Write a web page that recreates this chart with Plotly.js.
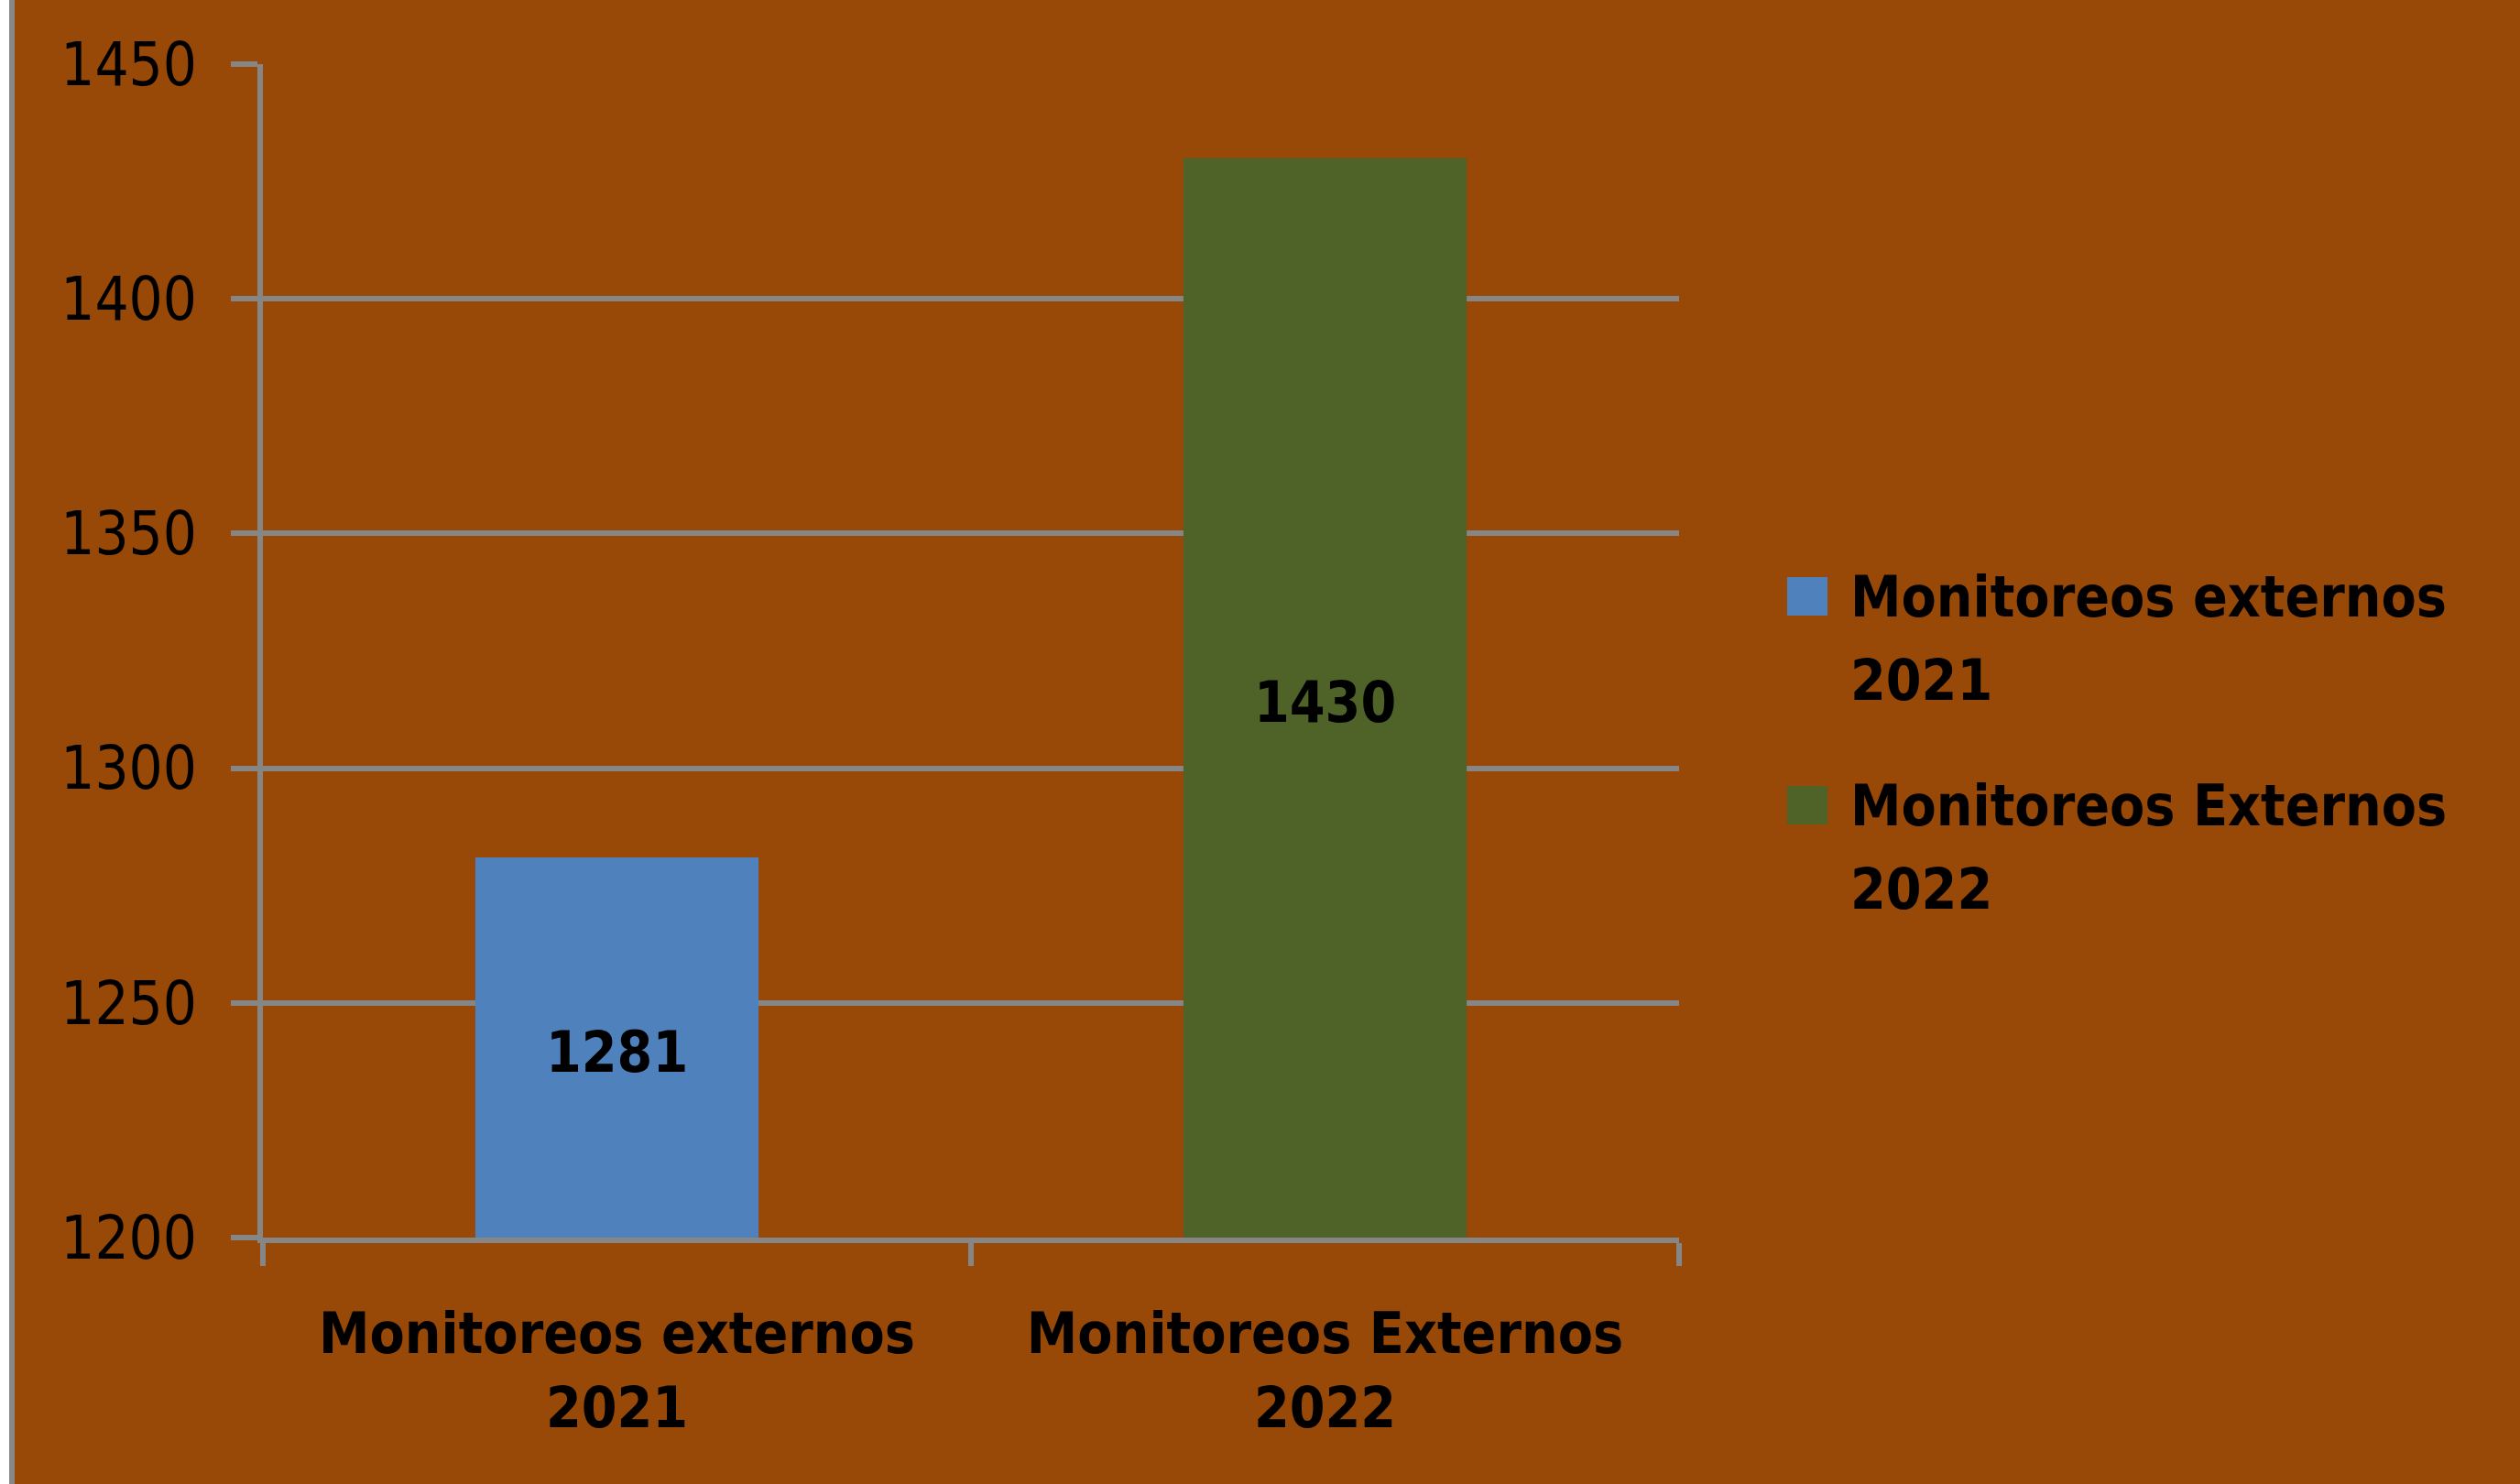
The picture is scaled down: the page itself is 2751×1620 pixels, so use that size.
<!DOCTYPE html>
<html><head><meta charset="utf-8">
<script src="https://cdn.plot.ly/plotly-3.0.1.min.js"></script>
<style>
html,body{margin:0;padding:0;background:#ffffff;overflow:hidden;}
#frame{position:absolute;left:10px;top:0;width:6px;height:1620px;background:#888888;}
#chart{position:absolute;left:16px;top:0;width:2735px;height:1620px;}
</style></head><body>
<div id="frame"></div><div id="chart"></div>
<script>
const categories = ['Monitoreos externos<br>2021', 'Monitoreos Externos<br>2022'];
const values = [1281, 1430];
const barColors = ['#4F81BD', '#4F6228'];
const yTickVals = [1200, 1250, 1300, 1350, 1400, 1450];
const yRange = [1200, 1450];

const FONT_B = "'DejaVu Sans Condensed', 'DejaVu Sans', sans-serif";
const FONT_R = "'DejaVu Sans Condensed', 'DejaVu Sans', sans-serif";
const BG = '#984807';
const GRID = '#868686';

const traces = categories.map((c, i) => ({
  type: 'bar',
  x: [c],
  y: [values[i]],
  name: c.replace('<br>', ' '),
  marker: {color: barColors[i], line: {width: 0}},
  showlegend: false,
  hoverinfo: 'x+y'
}));

const shapes = [];
const annotations = [];

// data labels, centred in the visible part of each bar
categories.forEach((c, i) => {
  annotations.push({xref: 'x', yref: 'y', x: c, y: (yRange[0] + values[i]) / 2,
    xanchor: 'center', yanchor: 'middle', yshift: -5, showarrow: false, text: String(values[i]),
    font: {family: FONT_B, size: 62, color: '#000000', weight: 'bold'}});
});

// custom legend (large swatches)
const legX0 = 1.0763, legX1 = 1.1048, legTextX = 1.1197;
const legLine1 = [0.5464, 0.3684];
const lineStep = 0.0710;
const swHalf = 0.0164;
categories.forEach((c, i) => {
  shapes.push({type: 'rect', xref: 'paper', yref: 'paper',
    x0: legX0, x1: legX1, y0: legLine1[i] - swHalf, y1: legLine1[i] + swHalf,
    fillcolor: barColors[i], line: {width: 0}});
  c.split('<br>').forEach((ln, j) => {
    annotations.push({xref: 'paper', yref: 'paper', x: legTextX, y: legLine1[i] - j * lineStep,
      xanchor: 'left', yanchor: 'middle', showarrow: false, text: ln,
      font: {family: FONT_B, size: 62, color: '#000000', weight: 'bold'}});
  });
});

const layout = {
  width: 2735, height: 1620,
  margin: {l: 271, r: 918, t: 70, b: 269, pad: 0},
  paper_bgcolor: BG, plot_bgcolor: BG,
  barmode: 'overlay', bargap: 0.6,
  showlegend: false,
  xaxis: {
    type: 'category', showline: true, linecolor: GRID, linewidth: 6,
    ticks: 'outside', tickson: 'boundaries', ticklen: 25, tickwidth: 6, tickcolor: GRID,
    showgrid: false, zeroline: false, automargin: false,
    tickfont: {family: FONT_B, size: 62, color: '#000000', weight: 'bold'},
    ticklabelstandoff: 46
  },
  yaxis: {
    range: yRange, tickvals: yTickVals, showline: true, linecolor: GRID, linewidth: 6,
    ticks: 'outside', ticklen: 29, tickwidth: 6, tickcolor: GRID,
    showgrid: true, gridcolor: GRID, gridwidth: 6, zeroline: false, automargin: false,
    tickfont: {family: FONT_R, size: 65, color: '#000000'},
    ticklabelstandoff: 24
  },
  shapes: shapes,
  annotations: annotations
};

Plotly.newPlot('chart', traces, layout, {displayModeBar: false, staticPlot: true});
</script>
</body></html>
